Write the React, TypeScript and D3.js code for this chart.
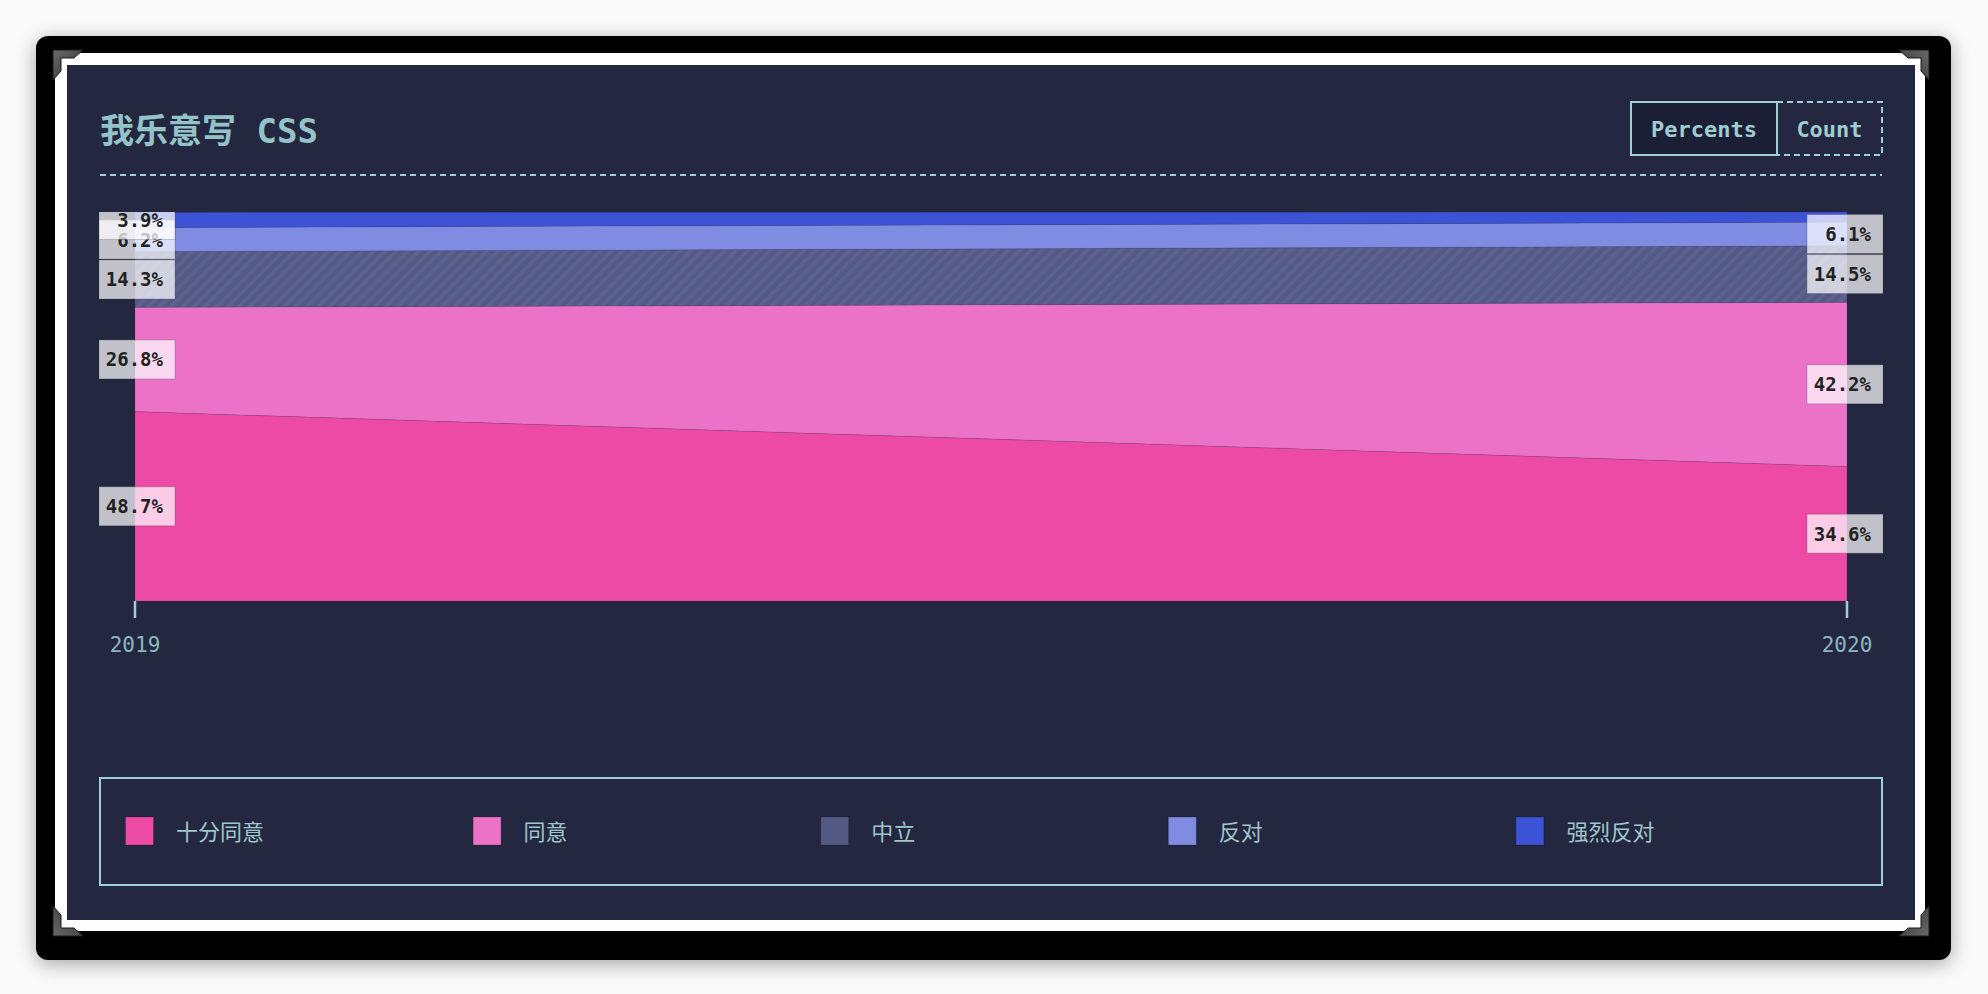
import React from 'react';
import * as d3 from 'd3';

// chart values
const years = ['2019', '2020'];
const seriesNames = ['十分同意', '同意', '中立', '反对', '强烈反对'];
const strongAgree = [48.7, 34.6];
const agree = [26.8, 42.2];
const neutral = [14.3, 14.5];
const disagree = [6.2, 6.1];
const strongDisagree = [3.9, 2.6];
const seriesColors = ['#ed4aa5', '#ec72c8', '#555a85', '#7f8ce1', '#3d53d5'];
const buttonLabels = ['Percents', 'Count'];
const title = '我乐意写 CSS';

const W = 1988;
const H = 994;
const TEAL = '#9fcfd3';
const NAVY = '#23273f';
const MONO = "'DejaVu Sans Mono', 'Noto Sans CJK SC', monospace";
const CJK = "'Noto Sans CJK SC', 'Noto Sans', sans-serif";

const allValues = [strongAgree, agree, neutral, disagree, strongDisagree];

type Row = { year: string; [key: string]: number | string };

const rows: Row[] = years.map((year, i) => {
  const r: Row = { year };
  seriesNames.forEach((name, k) => {
    r[name] = allValues[k][i];
  });
  return r;
});

const Corner: React.FC<{ x: number; y: number; sx: number; sy: number }> = ({ x, y, sx, sy }) => (
  <path
    transform={`translate(${x},${y}) scale(${sx},${sy})`}
    d="M0,0 H30 L21,8 H8 V21 L0,30 Z"
    fill="url(#metal)"
    stroke="#1b1b1b"
    strokeWidth={1}
  />
);

export default function App() {
  const margin = { left: 135, right: 1847, top: 212, bottom: 601 };

  const x = d3.scalePoint<string>().domain(years).range([margin.left, margin.right]);
  const y = d3.scaleLinear().domain([0, 100]).range([margin.bottom, margin.top]);

  const stack = d3.stack<Row>().keys(seriesNames).value((d, key) => d[key] as number);
  const layers = stack(rows);

  const area = d3
    .area<d3.SeriesPoint<Row>>()
    .x((d) => x(d.data.year as string) as number)
    .y0((d) => y(d[0]))
    .y1((d) => y(d[1]));

  const legendX = d3.scaleLinear().domain([0, 1]).range([125.5, 473.1]);

  return (
    <svg
      width={W}
      height={H}
      viewBox={`0 0 ${W} ${H}`}
      style={{ position: 'fixed', left: 0, top: 0, display: 'block' }}
    >
      <defs>
        <filter id="shadow" x="-5%" y="-5%" width="110%" height="115%">
          <feGaussianBlur in="SourceAlpha" stdDeviation="10" />
          <feOffset dx="0" dy="4" result="b" />
          <feComponentTransfer>
            <feFuncA type="linear" slope="0.35" />
          </feComponentTransfer>
          <feMerge>
            <feMergeNode />
            <feMergeNode in="SourceGraphic" />
          </feMerge>
        </filter>
        <linearGradient id="metal" x1="0" y1="0" x2="1" y2="1">
          <stop offset="0" stopColor="#6a6a6a" />
          <stop offset="1" stopColor="#2e2e2e" />
        </linearGradient>
        <pattern id="hatch" width="8" height="8" patternUnits="userSpaceOnUse" patternTransform="rotate(45)">
          <rect width="8" height="8" fill={seriesColors[2]} />
          <rect width="3.5" height="8" fill="#5c6291" />
        </pattern>
        <clipPath id="plotClip">
          <rect x={0} y={margin.top} width={W} height={margin.bottom - margin.top + 40} />
        </clipPath>
      </defs>

      {/* page and frame */}
      <rect width={W} height={H} fill="#fafafa" />
      <rect x={36} y={36} width={1915} height={924} rx={12} fill="#000" filter="url(#shadow)" />
      <rect x={55} y={53} width={1870} height={878} fill="#fff" />
      <rect x={67} y={65} width={1848} height={855} fill={NAVY} />
      <Corner x={53} y={50} sx={1} sy={1} />
      <Corner x={1929} y={50} sx={-1} sy={1} />
      <Corner x={53} y={936} sx={1} sy={-1} />
      <Corner x={1929} y={936} sx={-1} sy={-1} />

      {/* header */}
      <text x={100} y={143} fontFamily={MONO} fontWeight="bold" fontSize={34} fill="#93c3c7">
        {title}
      </text>
      <rect x={1631} y={102} width={146} height={53} fill="#1b1f36" stroke={TEAL} strokeWidth={2} />
      <rect
        x={1777}
        y={102}
        width={105}
        height={53}
        fill="none"
        stroke={TEAL}
        strokeWidth={2}
        strokeDasharray="6 4"
      />
      <text
        x={1704}
        y={129}
        textAnchor="middle"
        dominantBaseline="central"
        fontFamily={MONO}
        fontWeight="bold"
        fontSize={22}
        fill="#a0ccd0"
      >
        {buttonLabels[0]}
      </text>
      <text
        x={1829.5}
        y={129}
        textAnchor="middle"
        dominantBaseline="central"
        fontFamily={MONO}
        fontWeight="bold"
        fontSize={22}
        fill="#a0ccd0"
      >
        {buttonLabels[1]}
      </text>
      <line x1={100} x2={1882} y1={175} y2={175} stroke={TEAL} strokeWidth={2} strokeDasharray="6 4" />

      {/* stacked areas */}
      <g>
        {layers.map((layer, i) => (
          <path
            key={layer.key}
            d={area(layer) || ''}
            fill={i === 2 ? 'url(#hatch)' : seriesColors[i]}
            stroke="rgba(35,39,65,0.12)"
            strokeWidth={1}
          />
        ))}
      </g>

      {/* x axis ticks */}
      <g>
        {years.map((yr) => (
          <g key={yr} transform={`translate(${x(yr)},0)`}>
            <line y1={margin.bottom} y2={margin.bottom + 17} stroke={TEAL} strokeWidth={2.5} />
            <text
              y={652}
              textAnchor="middle"
              fontFamily={MONO}
              fontSize={21}
              fill="#8bb8bf"
            >
              {yr}
            </text>
          </g>
        ))}
      </g>

      {/* value labels */}
      <g clipPath="url(#plotClip)">
        {layers.map((layer) =>
          layer.map((d, j) => {
            const v = d[1] - d[0];
            if (v < 3) return null;
            const cx = (x(d.data.year as string) as number) + (j === 0 ? 2 : -2);
            const cy = y((d[0] + d[1]) / 2);
            return (
              <g key={`${layer.key}-${d.data.year}`}>
                <rect
                  x={cx - 38}
                  y={cy - 19.5}
                  width={76}
                  height={39}
                  fill="rgba(255,255,255,0.72)"
                  stroke="rgba(60,60,70,0.25)"
                  strokeWidth={1}
                />
                <text
                  x={cx + 26}
                  y={cy}
                  textAnchor="end"
                  dominantBaseline="central"
                  fontFamily={MONO}
                  fontWeight="bold"
                  fontSize={19}
                  fill="#222"
                >
                  {`${v.toFixed(1)}%`}
                </text>
              </g>
            );
          })
        )}
      </g>

      {/* legend */}
      <rect x={100} y={778} width={1782} height={107} fill="none" stroke={TEAL} strokeWidth={2} />
      {seriesNames.map((name, i) => (
        <g key={name} transform={`translate(${legendX(i)},817)`}>
          <rect width={28} height={28} fill={seriesColors[i]} stroke="rgba(0,0,0,0.2)" strokeWidth={1} />
          <text
            x={50.5}
            y={13}
            dominantBaseline="central"
            fontFamily={CJK}
            fontSize={22}
            fill="#9fc6ca"
          >
            {name}
          </text>
        </g>
      ))}
    </svg>
  );
}
